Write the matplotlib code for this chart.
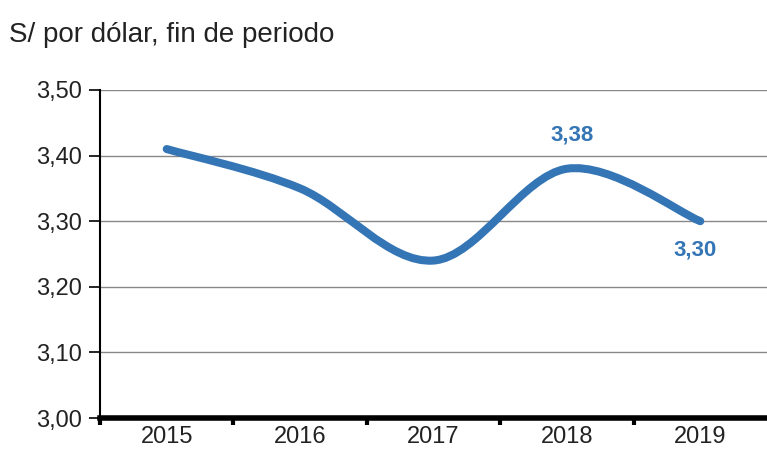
import matplotlib.pyplot as plt
from matplotlib.path import Path
from matplotlib.patches import PathPatch

plt.rcParams['font.family'] = ['Liberation Sans', 'DejaVu Sans']

# Datos
years = ['2015', '2016', '2017', '2018', '2019']
tipo_cambio = [3.41, 3.35, 3.24, 3.38, 3.30]
y_ticks = [3.00, 3.10, 3.20, 3.30, 3.40, 3.50]

blue = '#3475b5'

fig = plt.figure(figsize=(7.67, 4.55), dpi=100)
ax = fig.add_axes([0.1304, 0.0813, 0.8696, 0.7209])

# Curva suavizada (Bezier tipo Excel) en coordenadas de datos
xs = [i + 0.5 for i in range(len(years))]
ys = tipo_cambio
verts = [(xs[0], ys[0])]
codes = [Path.MOVETO]
n = len(xs)
for i in range(n - 1):
    x0, y0 = (xs[i - 1], ys[i - 1]) if i > 0 else (xs[i], ys[i])
    x1, y1 = xs[i], ys[i]
    x2, y2 = xs[i + 1], ys[i + 1]
    x3, y3 = (xs[i + 2], ys[i + 2]) if i + 2 < n else (x2, y2)
    c1 = (x1 + (x2 - x0) / 6, y1 + (y2 - y0) / 6)
    c2 = (x2 - (x3 - x1) / 6, y2 - (y3 - y1) / 6)
    verts += [c1, c2, (x2, y2)]
    codes += [Path.CURVE4] * 3
patch = PathPatch(Path(verts, codes), facecolor='none', edgecolor=blue,
                  lw=5.8, capstyle='round', joinstyle='round', zorder=3)
ax.add_patch(patch)

ax.set_xlim(0, len(years))
ax.set_ylim(3.0, 3.5)
ax.set_yticks(y_ticks)
ax.set_yticklabels([f'{v:.2f}'.replace('.', ',') for v in y_ticks], fontsize=17,
                   color='#222222')
ax.set_xticks(range(len(years)))
ax.set_xticklabels([])
ax.set_xticks(xs, minor=True)
ax.set_xticklabels(years, minor=True, fontsize=17, color='#222222')
ax.tick_params(axis='x', which='minor', length=0, pad=6)
ax.tick_params(axis='x', which='major', length=5, width=3, direction='out')
ax.tick_params(axis='y', length=8, width=1.2, pad=5)

ax.grid(axis='y', color='#888888', lw=1)
ax.set_axisbelow(True)
for s in ['top', 'right']:
    ax.spines[s].set_visible(False)
ax.spines['left'].set_linewidth(1.5)
ax.spines['bottom'].set_linewidth(4)
ax.spines['bottom'].set_zorder(4)

ax.annotate('3,38', (xs[3], ys[3]), xytext=(4, 17), textcoords='offset points',
            ha='center', va='bottom', color=blue, fontsize=16, fontweight='bold')
ax.annotate('3,30', (xs[4], ys[4]), xytext=(-4, -13), textcoords='offset points',
            ha='center', va='top', color=blue, fontsize=16, fontweight='bold')

fig.text(0.012, 0.922, 'S/ por dólar, fin de periodo', fontsize=20, color='#222222',
         va='center', ha='left')

fig.savefig('out.png', dpi=100)
